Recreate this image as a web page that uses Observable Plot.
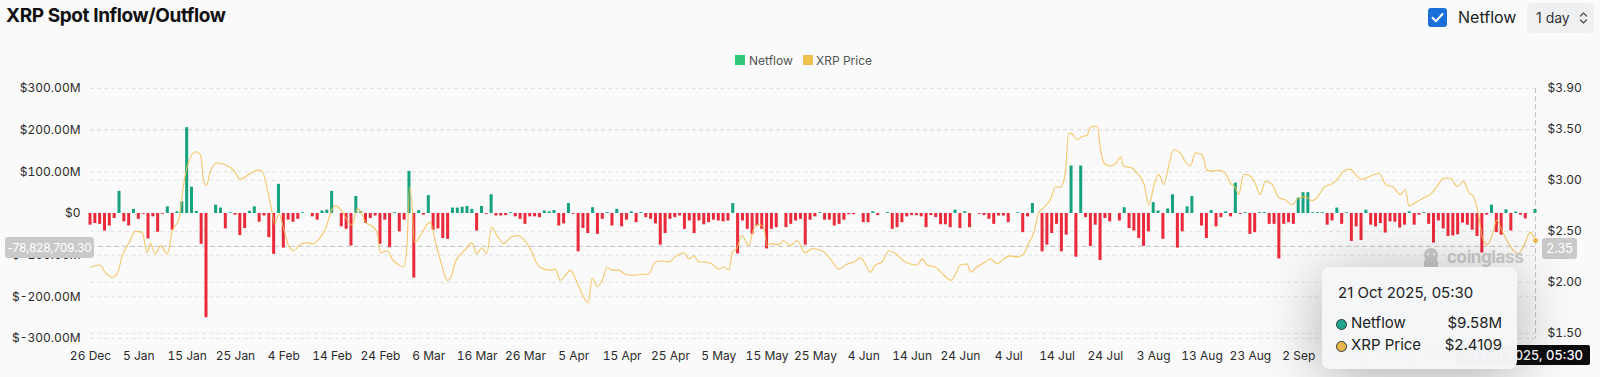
<!DOCTYPE html>
<html><head><meta charset="utf-8">
<script src="https://cdn.jsdelivr.net/npm/d3@7"></script>
<script src="https://cdn.jsdelivr.net/npm/@observablehq/plot@0.6"></script>
<style>
html,body{margin:0;padding:0;background:#fafafa;width:1600px;height:377px;overflow:hidden;font-family:Inter,"Noto Sans",sans-serif;}
#wrap{position:relative;width:1600px;height:377px;}
#chart{position:absolute;left:0;top:0;}
.abs{position:absolute;white-space:nowrap;}
#title{left:6px;top:4px;font-size:19px;font-weight:700;color:#111;letter-spacing:-0.4px;}
#chk{left:1428px;top:8px;width:19px;height:19px;background:#1b6fd8;border-radius:3px;}
#chkLabel{left:1458px;top:7px;font-size:16px;color:#222;}
#btn{left:1527px;top:3px;width:67px;height:30px;background:#eff0f2;border-radius:5px;}
#btnText{left:1536px;top:9px;font-size:14px;color:#333;}
.leg{top:55px;width:10px;height:10px;}
.legt{top:53px;font-size:12px;color:#555;}
.xlab{background:#c9c9c9;color:#fff;font-size:12px;border-radius:3px;text-align:center;line-height:21px;height:21px;letter-spacing:-0.2px;}
#tip{left:1322px;top:267px;width:195px;height:102px;background:rgba(245,246,248,0.98);border-radius:8px;box-shadow:0 8px 60px rgba(0,0,0,0.3);}
.tipt{font-size:15px;color:#222;}
.dot{width:9px;height:9px;border-radius:50%;border:1px solid #2d3b38;}
#wm{left:1447px;top:247px;font-size:17px;font-weight:700;color:#cdcdcd;letter-spacing:-0.4px;}
#blk{right:10px;top:345px;height:20px;line-height:20px;background:#0d0d0d;color:#fff;font-size:13px;padding:0 7px;border-radius:2px;font-weight:500;}
</style></head>
<body><div id="wrap"><div id="chart"></div></div>
<script>
// ---- data (daily, starting 26 Dec 2024) ----
const startDate = "2024-12-26";
const netflowM = [
 -28,-24,-26,-42,-30,-12,53,-20,-30,10,
 -14,-2,-61,-8,-45,-2,16,-40,4,28,
 206,63,5,-74,-250,0,20,13,-37,2,
 -4,-53,-36,5,16,-21,-6,-58,-98,70,
 -83,-16,-21,-14,2,0,-8,-16,6,8,
 53,0,-32,-38,-78,41,4,-24,-12,-6,
 -74,-16,-82,2,-44,-16,101,-155,7,-4,
 43,-40,-37,-60,-62,13,13,15,17,10,
 -42,17,-2,45,-6,-6,-5,2,-8,-14,
 -26,-8,-8,-10,6,4,7,-30,-25,24,
 -2,-92,-36,-48,14,-50,-14,2,-30,10,
 -32,-16,4,-22,2,-10,-14,-25,-76,-48,
 -14,-10,-6,-38,-18,-48,-18,-27,-22,-16,
 -18,-20,-18,24,-97,-18,-38,-50,-30,-38,
 -85,-38,-34,0,-34,-26,-18,-14,-76,-16,
 -8,2,-16,-16,-30,-26,-16,-3,-3,0,
 -22,-22,4,-5,0,2,-38,-34,-22,-8,
 -5,-5,-8,-34,-5,-10,-27,-27,-34,8,
 -36,4,-34,0,-2,-5,-14,-26,-6,-6,
 -22,0,2,-46,-8,24,0,-92,-76,-48,
 -26,-92,-52,114,-105,114,-10,-79,-28,-113,
 -12,-20,0,-18,14,-36,-42,-60,-79,-44,
 26,6,-62,11,45,-83,-44,16,41,0,
 -30,-60,7,-32,-10,4,-8,73,-2,2,
 -50,-46,2,2,-26,-26,-109,-26,-22,-26,
 37,50,50,2,2,2,-28,-18,13,-26,
 2,-67,-32,-65,8,-28,-32,-24,-47,-20,
 -21,-35,-28,4,-28,-4,2,-26,-71,-18,
 -37,-55,-54,-51,-23,-28,-40,-55,-95,-4,
 20,-46,-52,9,-42,3.5,-4,-13,0,9.58
];
// XRP price readings: day offset from startDate, price in USD
const priceDay = [0,2,3,4.5,5.5,6.5,8,9.3,10.7,11.7,12.4,13.4,14.5,15.9,16.9,18.3,19.3,20.3,21.7,22.8,23.4,24,24.8,26.2,28,29.6,31,32.8,34.8,35.5,36.6,37.6,38.1,39,40,41,42.1,43.1,44.5,45.9,47.2,48.6,50,50.7,52,53,54.1,55.2,56.2,56.9,58.3,59.3,60,61.4,62.4,63.8,64.8,65.5,66,66.6,67,68.3,69.7,70.3,71.4,72.8,73.8,74.5,75.5,76.9,77.9,78.9,79.9,81,82,83,84.1,85.5,86.9,88.3,89.7,91,92.4,93.8,95.2,96.2,97.2,98.3,99.3,100.5,101.5,103,103.8,104.8,105.9,106.9,107.9,109.3,110.7,112.4,114.1,115.5,116.9,118.3,119.7,121,122.8,123.8,124.8,125.9,127.2,128.6,130,131,132.1,132.8,133.8,134.8,136.2,137.2,138.3,139.3,140,141,142.4,143.4,144.8,146.2,147.9,149.3,151.4,153.1,154.8,156.6,158,159.3,160.3,161.4,162.4,163.8,165.2,166.6,168.3,169.7,171,172.1,173.1,174.8,176.6,178,179,180,181.4,182.1,183.4,185.2,186.2,187.6,189,190.3,191.7,193.1,194.1,195.2,196.2,197.2,198.6,199.7,200.7,201.7,202.4,203,204.1,205.2,206.2,206.9,208.3,209,209.7,211,212.4,213.1,213.8,215.5,216.6,218,219,220.1,221,222.1,223.1,224.1,225.5,226.6,227.6,228.6,230,231,232.1,233.4,234.8,235.9,236.9,237.6,238.6,240,241,242,243.1,244.5,245.9,247.2,248.6,250,251.4,252.8,253.8,255.2,256.6,258,259.3,260.7,261.7,263.1,264.8,266.6,268,269.7,271,272.1,272.8,274.1,275.9,277.2,278.6,280,281.4,282.8,284.1,285.2,286.2,287.2,288,289,290.1,291,292.1,293.1,294.3,295.4,296.6,297.9,299];
const priceUsd = [2.15,2.17,2.10,2.05,2.08,2.25,2.39,2.50,2.49,2.29,2.38,2.28,2.36,2.28,2.50,2.62,2.97,3.18,3.28,3.25,2.99,2.95,3.09,3.17,3.15,3.10,3.01,3.06,3.10,3.09,2.91,2.68,2.57,2.67,2.52,2.36,2.31,2.36,2.39,2.38,2.42,2.52,2.72,2.75,2.70,2.62,2.56,2.72,2.67,2.59,2.55,2.49,2.29,2.31,2.23,2.17,2.15,2.36,2.93,2.72,2.39,2.46,2.57,2.59,2.39,2.15,2.02,2.04,2.20,2.29,2.34,2.39,2.28,2.34,2.28,2.54,2.46,2.38,2.44,2.46,2.42,2.33,2.18,2.13,2.12,2.13,2.02,2.07,2.12,2.02,1.91,1.80,2.04,1.96,2.02,2.15,2.12,2.12,2.08,2.07,2.08,2.08,2.20,2.21,2.20,2.25,2.29,2.23,2.26,2.20,2.20,2.18,2.13,2.15,2.12,2.29,2.34,2.46,2.36,2.52,2.57,2.54,2.36,2.38,2.37,2.41,2.36,2.41,2.29,2.33,2.31,2.23,2.13,2.18,2.20,2.24,2.18,2.10,2.17,2.20,2.31,2.28,2.21,2.18,2.17,2.23,2.17,2.15,2.07,2.02,2.08,2.17,2.18,2.10,2.15,2.20,2.23,2.18,2.23,2.26,2.25,2.28,2.38,2.49,2.68,2.73,2.81,2.94,2.93,3.07,3.46,3.46,3.40,3.43,3.44,3.52,3.53,3.30,3.17,3.14,3.18,3.23,3.14,3.12,3.07,2.96,2.76,2.96,3.06,2.96,3.14,3.30,3.27,3.18,3.14,3.27,3.25,3.10,3.09,3.10,3.07,2.97,2.93,2.86,3.06,3.04,2.97,2.86,2.99,2.96,2.83,2.81,2.76,2.83,2.84,2.80,2.83,2.93,2.96,3.01,3.09,3.11,3.06,3.01,3.04,3.07,2.96,2.93,2.86,2.91,2.75,2.78,2.83,2.86,2.94,3.02,3.02,2.94,2.99,2.88,2.84,2.67,2.44,2.37,2.47,2.61,2.50,2.41,2.32,2.28,2.36,2.49,2.41];
const netflowTicks = [-300,-200,-100,0,100,200,300];
const priceTicks = [1.50,2.00,2.50,3.00,3.50,3.90];
const priceDomain = [1.45,3.90];
const netflowDomain = [-300,300];
const xTickEvery = 10;
const hoverNetflow = -78.8287093;
const hoverPrice = 2.35;

// ---- build ----
const DAY = 86400000;
const t0 = Date.parse(startDate + "T00:00:00Z");
const bars = netflowM.map((v, i) => ({date: new Date(t0 + i * DAY), v}));
const lastDate = bars[bars.length - 1].date;
const toY = p => netflowDomain[0] + (p - priceDomain[0]) / (priceDomain[1] - priceDomain[0]) * (netflowDomain[1] - netflowDomain[0]);
const fromY = v => priceDomain[0] + (v - netflowDomain[0]) / (netflowDomain[1] - netflowDomain[0]) * (priceDomain[1] - priceDomain[0]);
const price = priceDay.map((d, i) => ({date: new Date(t0 + d * DAY), p: priceUsd[i]}));
const xTicks = d3.range(0, netflowM.length, xTickEvery).map(i => new Date(t0 + i * DAY));
const fmtDate = d3.utcFormat("%-d %b");
const GREEN = "#16a27f", RED = "#ea2a3b", GOLD = "#f2be4f";

const chart = Plot.plot({
  width: 1600, height: 377,
  marginTop: 88, marginBottom: 39, marginLeft: 90, marginRight: 65,
  style: {background: "transparent", fontFamily: "Inter, 'Noto Sans', sans-serif", fontSize: "12px", color: "#2a2a2a", overflow: "visible"},
  x: {type: "utc", domain: [new Date(t0), lastDate]},
  y: {domain: netflowDomain},
  marks: [
    Plot.ruleY(netflowTicks.filter(v => v !== 0), {stroke: "#e2e2e2", strokeDasharray: "4,3", strokeWidth: 1}),
    Plot.ruleY(priceTicks.map(toY), {stroke: "#e2e2e2", strokeDasharray: "4,3", strokeWidth: 1}),
    Plot.axisY({ticks: netflowTicks, anchor: "left", tickSize: 0, tickPadding: 10,
      tickFormat: v => v === 0 ? "$0" : `$${v.toFixed(2)}M`, label: null, fontSize: 12}),
    Plot.axisY({ticks: priceTicks.map(toY), anchor: "right", tickSize: 0, tickPadding: 12,
      tickFormat: v => "$" + fromY(v).toFixed(2), label: null, fontSize: 12}),
    Plot.axisX({ticks: xTicks, tickSize: 0, tickPadding: 13, tickFormat: fmtDate, label: null, fontSize: 12}),
    Plot.ruleY([hoverNetflow], {stroke: "#c4c4c4", strokeDasharray: "5,3"}),
    Plot.ruleX([lastDate], {stroke: "#c4c4c4", strokeDasharray: "5,3"}),
    Plot.rectY(bars, {
      x1: d => new Date(+d.date - 0.31 * DAY), x2: d => new Date(+d.date + 0.31 * DAY),
      y1: 0, y2: "v", fill: d => d.v >= 0 ? GREEN : RED
    }),
    Plot.line(price, {x: "date", y: d => toY(d.p), stroke: GOLD, strokeWidth: 1.1, strokeOpacity: 0.85, curve: "monotone-x"}),
    Plot.dot(price.slice(-1), {x: "date", y: d => toY(d.p), r: 3, fill: "#e9b94c", stroke: "#fff", strokeWidth: 1})
  ]
});
document.getElementById("chart").appendChild(chart);

// ---- HTML chrome ----
const wrap = document.getElementById("wrap");
function add(html) { wrap.insertAdjacentHTML("beforeend", html); }
add(`<div class="abs" id="title">XRP Spot Inflow/Outflow</div>`);
add(`<div class="abs" id="chk"><svg width="19" height="19" viewBox="0 0 19 19"><path d="M4.5 9.8 L8 13.2 L14.5 6" fill="none" stroke="#fff" stroke-width="2" stroke-linecap="round" stroke-linejoin="round"/></svg></div>`);
add(`<div class="abs" id="chkLabel">Netflow</div>`);
add(`<div class="abs" id="btn"><svg style="position:absolute;left:52px;top:8px" width="9" height="14" viewBox="0 0 9 14"><path d="M1.5 5 L4.5 2 L7.5 5 M1.5 9 L4.5 12 L7.5 9" fill="none" stroke="#555" stroke-width="1.3" stroke-linecap="round" stroke-linejoin="round"/></svg></div>`);
add(`<div class="abs" id="btnText">1 day</div>`);
add(`<div class="abs leg" style="left:735px;background:#34c77b"></div><div class="abs legt" style="left:749px">Netflow</div>`);
add(`<div class="abs leg" style="left:803px;background:#f0c04c"></div><div class="abs legt" style="left:816px">XRP Price</div>`);
add(`<div class="abs xlab" style="left:5px;top:237px;width:89px">${d3.format(",.2f")(hoverNetflow*1e6).replace("−","-")}</div>`);
add(`<div class="abs xlab" style="left:1542px;top:238px;width:35px;font-size:13px">${hoverPrice.toFixed(2)}</div>`);
add(`<div class="abs" id="wm"><svg style="position:absolute;left:-27px;top:0px" width="22" height="22" viewBox="0 0 22 22"><circle cx="11" cy="8" r="7" fill="#cbcbcb"/><rect x="4" y="12" width="14" height="9" rx="3" fill="#cbcbcb"/><circle cx="8" cy="7" r="1.6" fill="#e8e8e8"/><circle cx="14" cy="7" r="1.6" fill="#e8e8e8"/></svg>coinglass</div>`);
add(`<div class="abs" id="blk">21 Oct 2025, 05:30</div>`);
add(`<div class="abs" id="tip">
  <div class="abs tipt" style="left:16px;top:16px">21 Oct 2025, 05:30</div>
  <div class="abs dot" style="left:14px;top:52px;background:#1fa58b"></div>
  <div class="abs tipt" style="left:29px;top:46px">Netflow</div>
  <div class="abs tipt" style="right:15px;top:46px">$${netflowM[netflowM.length-1].toFixed(2)}M</div>
  <div class="abs dot" style="left:14px;top:74px;background:#e8b84c"></div>
  <div class="abs tipt" style="left:29px;top:68px">XRP Price</div>
  <div class="abs tipt" style="right:15px;top:68px">$2.4109</div>
</div>`);
</script></body></html>
